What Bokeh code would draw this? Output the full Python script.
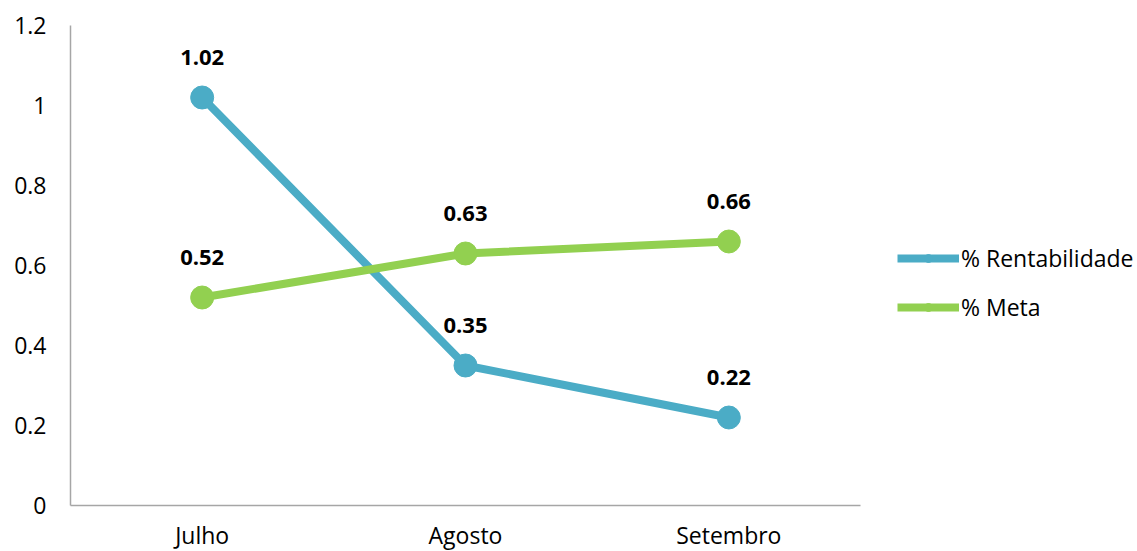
from bokeh.plotting import figure
from bokeh.models import (ColumnDataSource, FactorRange, Range1d, FixedTicker,
                          CustomJSTickFormatter, Legend, LegendItem)
from bokeh.core.properties import value
from bokeh.embed import file_html
from bokeh.resources import INLINE

months = ["Julho", "Agosto", "Setembro"]
rentabilidade = [1.02, 0.35, 0.22]
meta = [0.52, 0.63, 0.66]
y_ticks = [0, 0.2, 0.4, 0.6, 0.8, 1.0, 1.2]
series_names = ["% Rentabilidade", "% Meta"]

BLUE = "#4BACC6"
GREEN = "#92D050"
FONT = "Open Sans"

p = figure(frame_width=790, frame_height=480,
           x_range=FactorRange(*months, range_padding=0),
           y_range=Range1d(0, 1.2), output_backend="svg", toolbar_location=None,
           min_border_left=70, min_border_right=0, min_border_top=25,
           min_border_bottom=46)
p.outline_line_color = None
p.xgrid.grid_line_color = None
p.ygrid.grid_line_color = None
p.background_fill_color = "white"
p.border_fill_color = "white"

src = ColumnDataSource(dict(x=months, r=rentabilidade, m=meta,
                            rl=[f"{v:.2f}" for v in rentabilidade],
                            ml=[f"{v:.2f}" for v in meta]))

l1 = p.line("x", "r", source=src, line_color=BLUE, line_width=8)
s1 = p.scatter("x", "r", source=src, size=23, fill_color=BLUE, line_color=BLUE)
l2 = p.line("x", "m", source=src, line_color=GREEN, line_width=8)
s2 = p.scatter("x", "m", source=src, size=23, fill_color=GREEN, line_color=GREEN)

for col, lab in (("r", "rl"), ("m", "ml")):
    p.text("x", col, text=lab, source=src, y_offset=-40, text_align="center",
           text_baseline="middle", text_font=value(FONT), text_font_size="22px",
           text_font_style="bold", text_color="black")

for ax in (p.xaxis[0], p.yaxis[0]):
    ax.axis_line_color = "#a6a6a6"
    ax.axis_line_width = 1.5
    ax.major_tick_line_color = None
    ax.minor_tick_line_color = None
    ax.major_tick_out = 0
    ax.major_tick_in = 0
    ax.major_label_text_font = FONT
    ax.major_label_text_font_size = "23px"
    ax.major_label_text_color = "black"

p.yaxis.ticker = FixedTicker(ticks=y_ticks)
p.yaxis.formatter = CustomJSTickFormatter(code="return tick.toFixed(1).replace(/\\.0$/, '');")
p.yaxis.major_label_standoff = 24
p.xaxis.major_label_standoff = 13

legend = Legend(items=[LegendItem(label=series_names[0], renderers=[l1, s1]),
                       LegendItem(label=series_names[1], renderers=[l2, s2])],
                location=(37, 182), border_line_color=None,
                background_fill_alpha=0, padding=0, margin=0,
                glyph_width=62, glyph_height=20, label_height=20, spacing=17,
                label_standoff=2, label_text_font=FONT,
                label_text_font_size="23px", label_text_color="black")
p.add_layout(legend, "right")

open("out.html", "w").write(file_html(p, INLINE))
